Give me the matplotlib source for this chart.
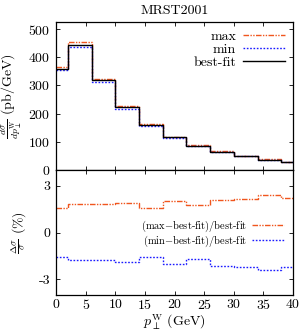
import numpy as np
import matplotlib
matplotlib.use("Agg")
import matplotlib.pyplot as plt

plt.rcParams["font.family"] = "serif"
plt.rcParams["font.serif"] = ["cmr10", "DejaVu Serif"]
plt.rcParams["mathtext.fontset"] = "cm"
plt.rcParams["axes.formatter.use_mathtext"] = True
plt.rcParams["font.size"] = 10

# bin edges (GeV)
edges = [0, 2, 6, 10, 14, 18, 22, 26, 30, 34, 38, 40]

# best-fit cross section (pb/GeV)
best_fit = [360, 445, 318, 222, 160, 116, 86, 65, 50, 37, 28]

# relative deviations (%)
dev_max = [1.55, 1.81, 1.81, 1.87, 1.55, 2.00, 1.74, 2.10, 2.17, 2.43, 2.19]
dev_min = [-1.55, -1.79, -1.79, -1.87, -1.55, -2.02, -1.70, -2.13, -2.19, -2.40, -2.21]

xticks = [0, 5, 10, 15, 20, 25, 30, 35, 40]

c_max = "#f0561e"
c_min = "#1a1aff"

best = np.array(best_fit, dtype=float)
sig_max = best * (1 + np.array(dev_max) / 100.0)
sig_min = best * (1 + np.array(dev_min) / 100.0)


def step(vals):
    # repeat last value so the last bin is drawn
    return np.append(vals, vals[-1])


fig = plt.figure(figsize=(3.0, 3.31), dpi=100)
ax1 = fig.add_axes([0.187, 0.486, 0.79, 0.4475])
ax2 = fig.add_axes([0.187, 0.1088, 0.79, 0.3772])

ax1.step(edges, step(sig_max), where="post", color=c_max, lw=1.0,
         dashes=[4, 1, 1, 1, 1, 1], label="max")
ax1.step(edges, step(sig_min), where="post", color=c_min, lw=1.0,
         dashes=[1.2, 1.2], label="min")
ax1.step(edges, step(best), where="post", color="black", lw=1.0,
         label="best-fit")

ax2.step(edges, step(dev_max), where="post", color=c_max, lw=1.0,
         dashes=[4, 1, 1, 1, 1, 1], label="(max$-$best-fit)/best-fit")
ax2.step(edges, step(dev_min), where="post", color=c_min, lw=1.0,
         dashes=[1.2, 1.2], label="(min$-$best-fit)/best-fit")

ax1.set_xlim(0, 40)
ax1.set_ylim(0, 525)
ax1.set_yticks([0, 100, 200, 300, 400, 500])
ax1.set_xticks(xticks)
ax1.tick_params(labelbottom=False)
ax1.set_ylabel(r"$\frac{d\sigma}{dp_\perp^{\rm W}}$ (pb/GeV)", labelpad=3)
ax1.set_title("MRST2001", fontsize=10, pad=6)

ax2.set_xlim(0, 40)
ax2.set_ylim(-4, 4)
ax2.set_yticks([-3, 0, 3])
ax2.set_yticklabels(["-3", "0", "3"])
ax2.set_xticks(xticks)
ax2.set_xlabel(r"$p_\perp^{\rm W}$ (GeV)", labelpad=0)
ax2.set_ylabel(r"$\frac{\Delta\sigma}{\sigma}$ (%)", labelpad=8)

for ax in (ax1, ax2):
    ax.tick_params(direction="in", top=True, right=True, length=3, width=0.6,
                   pad=4)
    for s in ax.spines.values():
        s.set_linewidth(0.9)
ax2.tick_params(axis="x", pad=2.5)

ax1.legend(loc="upper right", frameon=False, markerfirst=False,
           handlelength=3.0, handletextpad=0.5, labelspacing=0.0,
           borderaxespad=0.2)
ax2.legend(loc="center right", frameon=False, markerfirst=False,
           handlelength=3.0, handletextpad=0.5, labelspacing=0.0,
           fontsize=7.5, bbox_to_anchor=(1.0, 0.49))

fig.align_ylabels([ax1, ax2])
fig.savefig("out.png", dpi=100)
